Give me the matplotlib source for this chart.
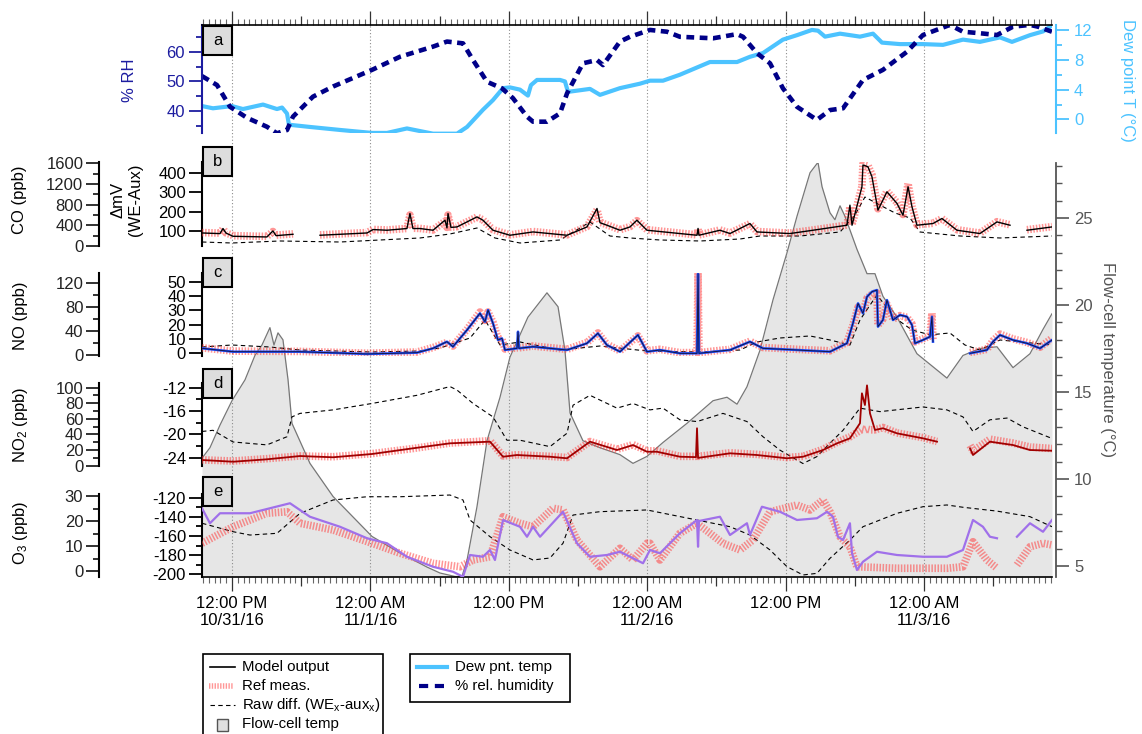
import numpy as np
import matplotlib
matplotlib.use("Agg")
import matplotlib.pyplot as plt
from matplotlib.lines import Line2D
from matplotlib.patches import Rectangle
from matplotlib.ticker import MultipleLocator, FixedLocator

plt.rcParams['font.family'] = ['Liberation Sans', 'DejaVu Sans']
plt.rcParams['mathtext.default'] = 'regular'
plt.rcParams['axes.unicode_minus'] = False

# ---------------- data (time in hours since 10/31/16 00:00) ----------------
FLOW_H = [9.40, 10.09, 10.96, 12.00, 13.13, 13.99, 14.60, 15.29, 15.64, 15.99,
          16.42, 16.86, 17.20, 18.76, 20.76, 24.14, 26.57, 28.91, 30.03, 31.34,
          31.94, 32.38, 33.24, 34.11, 35.24, 36.10, 37.66, 39.31, 40.27, 40.87,
          41.31, 42.43, 43.91, 45.64, 46.77, 47.98, 49.37, 51.45, 53.71, 54.92,
          55.79, 56.65, 57.78, 58.91, 60.12, 60.99, 62.12, 62.81, 63.16, 63.85,
          64.28, 64.72, 65.15, 66.19, 67.06, 67.75, 68.44, 69.66, 71.39, 73.99,
          75.38, 76.85, 78.33, 79.72, 81.19, 82.32, 83.10]
FLOW_T = [11.2, 11.8, 13.1, 14.5, 15.7, 17.1, 17.7, 18.7, 17.7, 18.4,
          18.0, 15.7, 13.2, 10.9, 9.0, 6.7, 5.75, 4.94, 4.6, 4.4,
          4.4, 5.34, 8.4, 12.2, 14.7, 17.0, 19.3, 20.7, 19.9, 17.4,
          13.8, 12.2, 11.8, 11.4, 10.9, 11.3, 12.1, 13.2, 14.5, 14.7,
          14.3, 15.3, 17.4, 20.3, 23.0, 25.1, 27.6, 28.2, 26.8, 25.3,
          24.9, 25.7, 25.1, 23.2, 21.8, 21.8, 20.5, 19.3, 17.2, 15.8,
          17.1, 17.5, 17.6, 16.4, 17.2, 18.6, 19.5]

DEW_H = [9.40, 10.35, 12.00, 12.95, 14.69, 15.90, 16.34, 16.77, 16.94, 18.76,
         21.36, 24.14, 25.44, 27.17, 29.43, 31.51, 32.38, 33.76, 34.63, 35.50,
         36.10, 36.97, 37.66, 37.92, 38.45, 40.44, 40.87, 41.13, 43.04, 43.91,
         45.64, 47.38, 48.24, 49.37, 50.84, 53.44, 55.79, 56.91, 58.04, 59.77,
         60.99, 62.29, 62.81, 63.42, 64.72, 66.45, 67.58, 68.36, 69.92, 71.91,
         73.65, 75.38, 76.85, 78.59, 79.63, 81.19, 82.32, 83.10]
DEW_T = [1.8, 1.5, 1.8, 1.4, 2.0, 1.4, 1.6, 0.8, -0.7, -1.0,
         -1.4, -1.8, -1.8, -1.2, -1.9, -1.9, -1.0, 1.3, 2.6, 4.2,
         4.3, 4.0, 3.2, 4.6, 5.3, 5.3, 5.1, 3.7, 4.1, 3.3,
         4.2, 4.8, 5.2, 5.2, 6.0, 7.7, 7.7, 8.4, 8.9, 10.7,
         11.3, 12.0, 11.9, 11.1, 11.5, 11.1, 11.5, 10.3, 10.1, 10.1,
         10.0, 10.7, 10.4, 11.0, 10.4, 11.3, 11.8, 12.6]

RH_H = [9.40, 10.70, 11.83, 13.30, 15.03, 15.90, 16.77, 17.29, 19.02, 20.76,
        24.14, 26.57, 29.43, 30.64, 32.03, 32.90, 34.11, 35.41, 36.36, 37.58,
        38.10, 39.31, 40.44, 41.05, 42.43, 43.65, 44.17, 45.64, 46.51, 48.24,
        49.72, 50.84, 53.71, 55.79, 56.31, 57.52, 58.65, 59.77, 60.99, 62.72,
        63.85, 64.98, 66.71, 68.44, 70.53, 71.91, 74.25, 75.38, 76.85, 78.33,
        79.72, 81.19, 81.88, 83.10]
RH = [51.8, 48.8, 41.5, 37.8, 34.8, 32.6, 33.7, 38.2, 44.9, 48.3,
      53.9, 58.3, 61.7, 63.4, 62.8, 57.2, 49.9, 47.7, 44.4, 38.2,
      36.5, 36.5, 39.3, 46.0, 56.1, 57.2, 55.5, 63.4, 65.0, 67.3,
      66.7, 65.0, 64.5, 65.9, 65.0, 59.5, 56.1, 47.7, 41.5, 37.1,
      40.4, 41.0, 50.5, 53.9, 60.0, 65.6, 69.0, 66.7, 66.2, 65.6,
      68.4, 69.0, 68.4, 66.7]

nan = float('nan')
CO_H = [9.40, 10.96, 11.22, 11.48, 12.09, 15.03, 15.55, 15.82, 17.29, 18.33,
        19.63, 23.71, 24.23, 25.44, 27.17, 27.43, 27.69, 28.30, 29.43, 30.47,
        30.64, 30.73, 30.99, 31.51, 33.24, 33.76, 34.63, 36.10, 38.10, 41.05,
        42.78, 43.65, 43.91, 44.51, 45.64, 46.51, 47.11, 47.98, 50.84, 52.32,
        52.41, 52.49, 54.31, 55.18, 56.91, 57.52, 60.38, 62.38, 65.32, 65.58,
        65.76, 66.62, 66.71, 67.14, 67.49, 68.01, 68.79, 69.66, 70.18, 70.62,
        70.96, 71.39, 72.78, 73.56, 74.86, 76.85, 78.33, 79.46, 79.72, 80.93,
        83.10]
CO_MODEL = [252, 240, 338, 250, 188, 175, 291, 200, 227, nan,
            208, 252, 318, 305, 338, 629, 338, 338, 305, 499,
            350, 629, 360, 369, 563, 499, 305, 208, 272, 208,
            369, 726, 450, 402, 305, 369, 499, 305, 241, 208,
            340, 208, 305, 241, 435, 272, 241, 305, 402, 790,
            402, 1146, 1567, 1534, 1340, 693, 1049, 823, 596, 1146,
            758, 402, 435, 532, 305, 241, 466, 402, nan, 305,
            369]
CO_REF = [260, 250, 330, 255, 200, 185, 280, 210, 235, nan,
          215, 260, 320, 310, 340, 600, 345, 340, 310, 480,
          360, 600, 365, 375, 560, 505, 315, 215, 280, 215,
          375, 700, 460, 410, 315, 375, 490, 315, 250, 215,
          330, 215, 310, 250, 430, 280, 250, 310, 405, 760,
          410, 1150, 1590, 1560, 1380, 720, 1060, 840, 610, 1210,
          770, 410, 440, 530, 315, 250, 470, 410, nan, 315,
          375]
CO_RAW_H = [9.40, 12.00, 16.16, 21.36, 24.83, 28.30, 30.90, 33.24, 34.80, 36.97,
            40.44, 43.04, 44.77, 46.51, 49.11, 52.58, 56.05, 57.78, 61.25, 64.72,
            66.02, 66.88, 68.18, 69.49, 70.79, 71.65, 75.12, 78.59, 83.10]
CO_RAW = [40.9, 35.7, 46.2, 40.9, 51.4, 61.9, 82.8, 114.1, 61.9, 35.7,
          51.4, 145.5, 72.3, 61.9, 51.4, 46.2, 56.6, 72.3, 72.3, 93.2,
          182.0, 276.0, 234.0, 192.5, 166.4, 93.2, 72.3, 61.9, 72.3]

NO_H = [9.40, 12.09, 17.90, 23.71, 28.04, 29.43, 30.64, 31.16, 32.38, 33.50,
        33.94, 34.20, 34.63, 35.06, 35.41, 35.67, 36.71, 36.80, 36.88, 38.10,
        41.05, 42.78, 43.73, 44.51, 45.64, 47.20, 47.98, 49.11, 50.84, 52.32,
        52.41, 52.49, 55.18, 56.91, 58.04, 60.99, 63.85, 65.32, 65.84, 66.28,
        66.71, 67.06, 67.49, 67.92, 68.01, 68.44, 68.79, 69.31, 69.92, 70.53,
        70.96, 71.22, 71.91, 72.52, 72.69, 72.78, 73.13, 75.99, 77.46, 77.98,
        78.59, 79.72, 80.93, 82.06, 83.10]
NO_MODEL = [11.2, 5.5, 5.5, 1.7, 3.9, 11.2, 22.3, 13.9, 41.9, 69.8,
            55.7, 75.3, 53.1, 25.1, 27.9, 8.4, 11.2, 39.0, 11.2, 13.9,
            8.4, 19.6, 36.3, 16.7, 5.5, 33.5, 5.5, 8.4, 2.8, 2.8,
            136.0, 2.8, 8.4, 22.3, 11.2, 8.4, 5.5, 19.6, 53.1, 86.5,
            69.8, 97.6, 106.0, 108.8, 47.4, 58.6, 92.0, 58.6, 67.0, 64.1,
            50.2, 19.6, 25.1, 30.6, 64.1, 22.3, nan, 2.8, 8.4, 22.3,
            33.5, 25.1, 19.6, 11.2, 25.1]
NO_REF = [12.0, 6.5, 6.0, 3.0, 5.0, 12.5, 21.0, 15.0, 43.0, 72.0,
          58.0, 72.0, 55.0, 28.0, 26.0, 10.0, 12.0, 12.0, 12.0, 15.0,
          9.5, 21.0, 37.0, 18.0, 7.0, 32.0, 7.0, 9.5, 4.0, 4.0,
          136.0, 4.0, 9.5, 23.0, 12.5, 9.5, 7.0, 21.0, 50.0, 80.0,
          72.0, 95.0, 102.0, 104.0, 50.0, 60.0, 85.0, 60.0, 66.0, 63.0,
          52.0, 22.0, 27.0, 32.0, 70.0, 24.0, nan, 4.0, 9.5, 24.0,
          35.0, 27.0, 21.0, 13.0, 28.0]
NO_RAW_H = [9.40, 12.00, 15.29, 17.90, 24.05, 28.30, 30.03, 32.64, 33.94, 35.24,
            36.97, 38.71, 40.44, 43.91, 47.98, 52.58, 56.05, 57.52, 59.51, 62.12,
            63.85, 65.58, 66.45, 67.92, 69.49, 70.96, 72.52, 74.25, 75.55, 76.85,
            78.59, 83.10]
NO_RAW = [4.4, 5.8, 4.4, 2.3, 0.9, 1.6, 3.7, 10.7, 23.3, 5.8,
          7.9, 5.1, 2.3, 5.1, 1.6, 0.9, 2.3, 7.9, 10.7, 12.1,
          9.3, 5.8, 23.3, 40.8, 24.7, 16.3, 12.9, 14.2, 5.8, 2.3,
          9.3, 5.8]

NO2_H = [9.40, 12.09, 15.03, 17.90, 20.76, 24.14, 27.69, 30.90, 34.37, 35.50,
         36.71, 39.57, 41.05, 43.04, 45.38, 46.77, 47.98, 48.85, 50.84, 52.23,
         52.32, 52.41, 55.18, 57.52, 60.12, 61.51, 63.24, 64.46, 65.58, 66.45,
         66.62, 66.88, 67.06, 67.32, 67.75, 68.44, 69.66, 71.91, 73.13, 73.39,
         75.99, 76.25, 77.72, 79.72, 81.19, 83.10]
NO2_MODEL = [7.3, 5.1, 8.2, 12.4, 10.8, 15.0, 22.3, 28.7, 30.8, 11.5,
             13.7, 11.5, 9.5, 30.8, 20.1, 26.5, 17.9, 17.9, 11.5, 11.0,
             48.0, 10.0, 15.9, 13.7, 9.5, 11.5, 20.1, 28.7, 35.1, 54.4,
             92.8, 77.8, 103.0, 67.0, 45.8, 48.0, 41.5, 35.1, 30.8, nan,
             22.3, 13.7, 30.8, 26.5, 20.1, 19.2]
NO2_REF = [7.5, 6.0, 9.0, 12.5, 11.5, 15.5, 22.0, 29.0, 32.0, 12.5,
           14.0, 12.0, 10.5, 31.0, 21.0, 27.0, 19.0, 19.0, 12.0, 12.0,
           13.0, 12.0, 16.5, 14.5, 10.5, 12.0, 21.0, 30.0, 37.0, 45.0,
           47.0, 46.0, 47.0, 46.0, 46.0, 49.0, 42.0, 36.0, 31.0, nan,
           26.0, 19.0, 34.0, 29.0, 24.0, 22.0]
NO2_RAW_H = [9.40, 10.35, 12.09, 15.03, 16.77, 17.20, 17.90, 20.76, 24.14, 28.04,
             30.90, 31.51, 32.90, 34.63, 35.84, 36.97, 39.57, 41.05, 41.57, 43.04,
             45.38, 46.77, 48.24, 49.37, 50.84, 52.32, 54.57, 56.65, 58.04, 59.51,
             61.51, 62.72, 63.85, 64.98, 66.45, 68.18, 71.91, 73.99, 75.38, 76.25,
             77.72, 79.20, 80.58, 83.10]
NO2_RAW = [-19.5, -19.3, -21.3, -21.8, -20.4, -17.0, -16.4, -15.8, -14.7, -13.3,
           -11.8, -12.4, -14.7, -17.0, -21.0, -21.0, -22.1, -19.8, -15.0, -13.3,
           -15.5, -14.7, -15.8, -15.5, -17.5, -17.8, -16.4, -17.8, -20.4, -22.7,
           -25.0, -23.8, -21.5, -19.3, -15.5, -16.1, -15.3, -15.8, -17.0, -19.5,
           -17.5, -17.2, -18.7, -20.7]

O3_H = [9.40, 10.09, 10.96, 13.56, 16.42, 17.03, 18.76, 21.36, 23.71, 25.44,
        27.17, 29.43, 31.16, 32.03, 32.64, 33.76, 34.37, 34.80, 35.50, 36.97,
        37.58, 38.10, 38.71, 40.70, 41.91, 43.04, 44.51, 45.64, 46.51, 47.64,
        48.24, 49.11, 50.84, 52.32, 52.41, 52.49, 54.31, 55.18, 56.65, 56.91,
        57.95, 59.51, 60.99, 62.72, 63.59, 64.11, 64.54, 64.98, 65.58, 65.76,
        66.19, 66.71, 67.92, 69.66, 71.91, 73.99, 75.38, 76.25, 77.11, 77.72,
        78.33, 79.02, 80.06, 81.19, 82.32, 83.10]
O3_MODEL = [25.1, 19.1, 23.1, 23.1, 26.4, 27.1, 21.7, 17.7, 13.1, 11.1,
            5.7, 1.7, -0.3, -2.3, 6.4, 5.7, 8.4, 4.4, 20.4, 17.7,
            13.7, 17.7, 13.7, 23.7, 11.1, 5.7, 6.4, 7.7, 5.7, 3.1,
            8.4, 7.1, 15.1, 20.4, 9.7, 20.0, 21.7, 14.4, 19.1, 14.4,
            25.7, 23.7, 20.4, 21.1, 23.7, 21.7, 13.7, 12.4, 19.1, 7.1,
            0.4, 3.7, 7.7, 6.4, 5.7, 5.7, 8.4, 20.4, 17.7, 13.7,
            13.1, nan, 13.7, 19.1, 15.7, 20.4]
O3_REF_H = [9.40, 12.09, 15.03, 16.77, 17.90, 20.76, 24.14, 26.57, 29.43, 31.77,
            32.90, 34.37, 35.50, 36.97, 38.10, 39.83, 40.70, 41.91, 43.91, 45.64,
            46.77, 47.98, 48.24, 49.11, 50.84, 52.32, 54.57, 56.05, 57.17, 58.65,
            60.99, 62.12, 63.24, 63.85, 64.72, 65.58, 66.19, 69.66, 73.99, 75.38,
            76.25, 77.46, 78.33, 79.02, 80.06, 81.19, 82.32, 83.10]
O3_REF = [11.1, 17.7, 23.1, 23.7, 19.1, 16.4, 11.1, 7.1, 3.1, 1.7,
          4.4, 5.7, 21.7, 19.1, 17.7, 25.1, 24.4, 12.4, 1.7, 9.1,
          4.4, 11.1, 11.1, 4.4, 15.1, 19.1, 11.1, 8.4, 12.4, 23.7,
          26.4, 24.4, 28.4, 23.7, 13.7, 9.7, 1.7, 1.1, 1.1, 1.7,
          11.7, 4.4, 1.1, nan, 2.4, 9.7, 11.1, 10.4]
O3_RAW_H = [9.40, 12.09, 13.56, 15.90, 17.90, 20.76, 23.71, 26.57, 30.90, 32.03,
            32.64, 34.37, 36.10, 38.10, 39.57, 40.70, 41.57, 43.91, 47.98, 52.32,
            55.18, 56.91, 58.65, 60.12, 61.51, 62.72, 63.85, 65.58, 66.71, 69.66,
            71.91, 73.99, 75.38, 78.33, 81.19, 83.10]
O3_RAW = [-146.7, -155.5, -159.0, -157.2, -136.3, -122.4, -119.0, -119.0, -117.2, -122.4,
          -143.3, -160.7, -174.6, -185.0, -183.0, -167.6, -138.1, -134.6, -132.8, -143.3,
          -150.3, -159.0, -174.6, -192.0, -200.7, -199.0, -183.3, -164.2, -150.3, -136.3,
          -129.4, -127.6, -130.0, -134.0, -139.8, -150.3]

TICK_HOURS = [12, 24, 36, 48, 60, 72]
TICK_LABELS = ['12:00 PM\n10/31/16', '12:00 AM\n11/1/16', '12:00 PM',
               '12:00 AM\n11/2/16', '12:00 PM', '12:00 AM\n11/3/16']

# ---------------- layout helpers ----------------
W, H = 1142, 734
fig = plt.figure(figsize=(W / 100, H / 100), dpi=100)
XL, XR = 202, 1052
T0, T1 = 9.40, 83.10

def rect(top, bot, left=XL, right=XR):
    return [left / W, 1 - bot / H, (right - left) / W, (bot - top) / H]

def pt(px):
    return px * 0.72

def fx(x):
    return x / W

def fy(y):
    return 1 - y / H

BLUE = '#1c1ca0'
LBLUE = '#4cc3ff'
GREY = '#555555'
REF_C = '#ff4040'

def ref_line(ax, h, v):
    ax.plot(h, v, color=REF_C, lw=5.5, alpha=0.55, ls=(0, (0.2, 0.2)),
            dash_capstyle='butt', zorder=3)

def raw_line(ax, h, v):
    ax.plot(h, v, color='black', lw=0.8, ls=(0, (4, 3)), zorder=2)

def time_axis(ax, side, labels=False):
    ax.set_xlim(T0, T1)
    major = list(range(12, 84, 6))
    ax.xaxis.set_major_locator(FixedLocator(major))
    ax.xaxis.set_minor_locator(FixedLocator(np.arange(9.5, 83.1, 0.5)))
    if side == 'top':
        ax.xaxis.set_ticks_position('top')
    else:
        ax.xaxis.set_ticks_position('bottom')
    ax.tick_params(axis='x', which='major', direction='out', length=pt(14),
                   width=0.9, color='#333333', pad=pt(5))
    ax.tick_params(axis='x', which='minor', direction='out', length=pt(6),
                   width=0.8, color='#666666')
    if labels:
        lab = {h: l for h, l in zip(TICK_HOURS, TICK_LABELS)}
        ax.set_xticklabels([lab.get(m, '') for m in major], fontsize=12)
    else:
        ax.tick_params(axis='x', labelbottom=False, labeltop=False)
    for t, m in zip(ax.xaxis.get_major_ticks(), major):
        if m % 12 != 0:
            t.tick1line.set_markersize(pt(9))
            t.tick2line.set_markersize(pt(9))

# ---------------- flow-cell temperature background ----------------
ax_flow = fig.add_axes(rect(163, 577))
ax_flow.set_facecolor('none')
ax_flow.set_xlim(T0, T1)
ax_flow.set_ylim(4.37, 28.16)
ax_flow.fill_between(FLOW_H, FLOW_T, 4.37, color='#e6e6e6', lw=0)
ax_flow.plot(FLOW_H, FLOW_T, color='#777777', lw=0.9)
for s in ['top', 'left', 'bottom']:
    ax_flow.spines[s].set_visible(False)
ax_flow.spines['right'].set_position(('outward', pt(4)))
ax_flow.spines['right'].set_color(GREY)
ax_flow.spines['right'].set_linewidth(1.3)
ax_flow.yaxis.tick_right()
ax_flow.set_xticks([])
ax_flow.yaxis.set_major_locator(MultipleLocator(5))
ax_flow.yaxis.set_minor_locator(MultipleLocator(1))
ax_flow.tick_params(axis='y', which='major', length=pt(13), width=1.2,
                    colors=GREY, labelsize=12, pad=pt(5))
ax_flow.tick_params(axis='y', which='minor', length=pt(6), width=1.0, color=GREY)

# ---------------- dotted time grid ----------------
ax_grid = fig.add_axes(rect(25, 577))
ax_grid.set_xlim(T0, T1)
ax_grid.axis('off')
for hh in TICK_HOURS:
    ax_grid.axvline(hh, color='#8c8c8c', lw=0.8, ls=(0, (1, 2)))

# ---------------- panel a ----------------
ax_a = fig.add_axes(rect(25, 133.3))
ax_a.set_facecolor('none')
ax_a.set_ylim(32.6, 68.96)
time_axis(ax_a, 'top')
for s in ['right', 'bottom']:
    ax_a.spines[s].set_visible(False)
ax_a.spines['top'].set_linewidth(1.2)
ax_a.spines['left'].set_color(BLUE)
ax_a.spines['left'].set_linewidth(1.5)
ax_a.yaxis.set_major_locator(MultipleLocator(10))
ax_a.yaxis.set_minor_locator(MultipleLocator(5))
ax_a.tick_params(axis='y', which='major', length=pt(13), width=1.3, colors=BLUE,
                 labelsize=12, pad=pt(4))
ax_a.tick_params(axis='y', which='minor', length=pt(6), width=1.3, color=BLUE)
ax_dew = ax_a.twinx()
ax_dew.set_ylim(-1.85, 12.66)
for s in ['left', 'top', 'bottom']:
    ax_dew.spines[s].set_visible(False)
ax_dew.spines['right'].set_position(('outward', pt(4)))
ax_dew.spines['right'].set_color(LBLUE)
ax_dew.spines['right'].set_linewidth(1.5)
ax_dew.yaxis.set_major_locator(MultipleLocator(4))
ax_dew.yaxis.set_minor_locator(MultipleLocator(2))
ax_dew.tick_params(axis='y', which='major', length=pt(13), width=1.3, colors=LBLUE,
                   labelsize=12, pad=pt(5))
ax_dew.tick_params(axis='y', which='minor', length=pt(6), width=1.3, color=LBLUE)
ax_dew.plot(DEW_H, DEW_T, color=LBLUE, lw=3)
ax_a.plot(RH_H, RH, color='#000088', lw=3.3, ls=(0, (1.7, 1.2)))
ax_a.set_zorder(ax_dew.get_zorder() + 1)

# ---------------- panels b - e ----------------
def panel(top, bot, mv_lim, ppb_lim, mv_maj, mv_min, ppb_maj, ppb_min):
    ax = fig.add_axes(rect(top, bot))
    ax.set_facecolor('none')
    ax.set_xlim(T0, T1)
    ax.set_ylim(*mv_lim)
    for s in ['top', 'right', 'bottom']:
        ax.spines[s].set_visible(False)
    ax.spines['left'].set_linewidth(1.5)
    ax.yaxis.set_major_locator(MultipleLocator(mv_maj))
    if mv_min:
        ax.yaxis.set_minor_locator(MultipleLocator(mv_min))
    ax.tick_params(axis='y', which='major', length=pt(13), width=1.3,
                   labelsize=12, pad=pt(3))
    ax.tick_params(axis='y', which='minor', length=pt(6), width=1.3)
    ax2 = ax.twinx()
    ax2.set_ylim(*ppb_lim)
    for s in ['top', 'right', 'bottom']:
        ax2.spines[s].set_visible(False)
    ax2.spines['left'].set_visible(True)
    ax2.spines['left'].set_position(('outward', pt(102.7)))
    ax2.spines['left'].set_linewidth(1.5)
    ax2.yaxis.set_ticks_position('left')
    ax2.yaxis.set_major_locator(MultipleLocator(ppb_maj))
    ax2.yaxis.set_minor_locator(MultipleLocator(ppb_min))
    ax2.tick_params(axis='y', which='major', length=pt(13), width=1.3,
                    labelsize=12, pad=pt(3), colors='#222222')
    ax2.tick_params(axis='y', which='minor', length=pt(6), width=1.3, color='#222222')
    return ax, ax2

ax_b, ax_b2 = panel(161.7, 246, (20.0, 460.6), (0, 1631), 100, None, 400, 200)
ax_b.set_xticks([])
raw_line(ax_b, CO_RAW_H, CO_RAW)
ref_line(ax_b2, CO_H, CO_REF)
ax_b2.plot(CO_H, CO_MODEL, color='black', lw=1.0, zorder=4)

ax_c, ax_c2 = panel(273.3, 355.5, (-1.54, 55.9), (-0.84, 136.8), 10, None, 40, 20)
ax_c.set_xticks([])
raw_line(ax_c, NO_RAW_H, NO_RAW)
ref_line(ax_c2, NO_H, NO_REF)
ax_c2.plot(NO_H, NO_MODEL, color='#1f4fff', lw=1.8, zorder=4)
ax_c2.plot(NO_H, NO_MODEL, color='#111133', lw=0.6, zorder=5)

ax_d, ax_d2 = panel(382.7, 466, (-25.42, -11.14), (-0.38, 106.4), 4, 2, 20, 10)
ax_d.set_xticks([])
raw_line(ax_d, NO2_RAW_H, NO2_RAW)
ref_line(ax_d2, NO2_H, NO2_REF)
ax_d2.plot(NO2_H, NO2_MODEL, color='#a00000', lw=1.3, zorder=4)

ax_e, ax_e2 = panel(494.3, 577, (-202.82, -116.45), (-2.4, 30.68), 20, 10, 10, 5)
ax_e.spines['bottom'].set_visible(True)
ax_e.spines['bottom'].set_linewidth(1.2)
time_axis(ax_e, 'bottom', labels=True)
raw_line(ax_e, O3_RAW_H, O3_RAW)
ref_line(ax_e2, O3_REF_H, O3_REF)
ax_e2.plot(O3_H, O3_MODEL, color='#a070ea', lw=1.6, zorder=4)

# ---------------- axis titles ----------------
fig.text(fx(130), fy(80), '% RH', rotation=90, ha='center', va='center',
         fontsize=12, color=BLUE)
fig.text(fx(1127), fy(80), 'Dew point T (°C)', rotation=270, ha='center',
         va='center', fontsize=12, color=LBLUE)
fig.text(fx(1107), fy(360), 'Flow-cell temperature (°C)', rotation=270,
         ha='center', va='center', fontsize=12, color=GREY)
fig.text(fx(19.5), fy(200), 'CO (ppb)', rotation=90, ha='center', va='center', fontsize=12)
fig.text(fx(127), fy(200), 'ΔmV\n(WE-Aux)', rotation=90, ha='center', va='center',
         fontsize=12, linespacing=1.2)
fig.text(fx(21), fy(316), 'NO (ppb)', rotation=90, ha='center', va='center', fontsize=12)
fig.text(fx(20), fy(425), 'NO$_2$ (ppb)', rotation=90, ha='center', va='center', fontsize=12)
fig.text(fx(20), fy(533), 'O$_3$ (ppb)', rotation=90, ha='center', va='center', fontsize=12)

# ---------------- panel letter boxes ----------------
for letter, top in zip(['a', 'b', 'c', 'd', 'e'], [26, 147, 258, 369, 477]):
    fig.add_artist(Rectangle((fx(203), fy(top + 29)), 29 / W, 29 / H,
                             transform=fig.transFigure, fc='#dddddd', ec='black',
                             lw=1.5, zorder=10))
    fig.text(fx(217.5), fy(top + 14.5), letter, ha='center', va='center',
             fontsize=12, zorder=11)

# ---------------- legends ----------------
fig.add_artist(Rectangle((fx(203), fy(740)), 180 / W, 86 / H, transform=fig.transFigure,
                         fc='white', ec='black', lw=1.2, zorder=10))
rows = [667, 686, 705, 724]
fig.add_artist(Line2D([fx(210), fx(235)], [fy(rows[0])] * 2, color='black', lw=1.2,
                      transform=fig.transFigure, zorder=11))
fig.add_artist(Line2D([fx(209), fx(234)], [fy(rows[1])] * 2, color=REF_C, lw=4,
                      alpha=0.55, ls=(0, (0.25, 0.25)), dash_capstyle='butt',
                      transform=fig.transFigure, zorder=11))
fig.add_artist(Line2D([fx(210), fx(235)], [fy(rows[2])] * 2, color='black', lw=0.8,
                      ls=(0, (4, 3)), transform=fig.transFigure, zorder=11))
fig.add_artist(Rectangle((fx(217), fy(731)), 11 / W, 12 / H, transform=fig.transFigure,
                         fc='#e0e0e0', ec='#555555', lw=1.0, zorder=11))
for r, t in zip(rows, ['Model output', 'Ref meas.', 'Raw diff. (WE$_x$-aux$_x$)',
                       'Flow-cell temp']):
    fig.text(fx(242), fy(r), t, ha='left', va='center', fontsize=10.8, zorder=12)

fig.add_artist(Rectangle((fx(410), fy(702)), 160 / W, 48 / H, transform=fig.transFigure,
                         fc='white', ec='black', lw=1.2, zorder=10))
fig.add_artist(Line2D([fx(417), fx(447)], [fy(667)] * 2, color=LBLUE, lw=3,
                      transform=fig.transFigure, zorder=11))
fig.add_artist(Line2D([fx(419), fx(446)], [fy(686)] * 2, color='#000088', lw=3,
                      ls=(0, (2.2, 1.6)), transform=fig.transFigure, zorder=11))
fig.text(fx(455), fy(667), 'Dew pnt. temp', ha='left', va='center', fontsize=10.8, zorder=12)
fig.text(fx(455), fy(686), '% rel. humidity', ha='left', va='center', fontsize=10.8, zorder=12)

fig.savefig('out.png', dpi=100)
